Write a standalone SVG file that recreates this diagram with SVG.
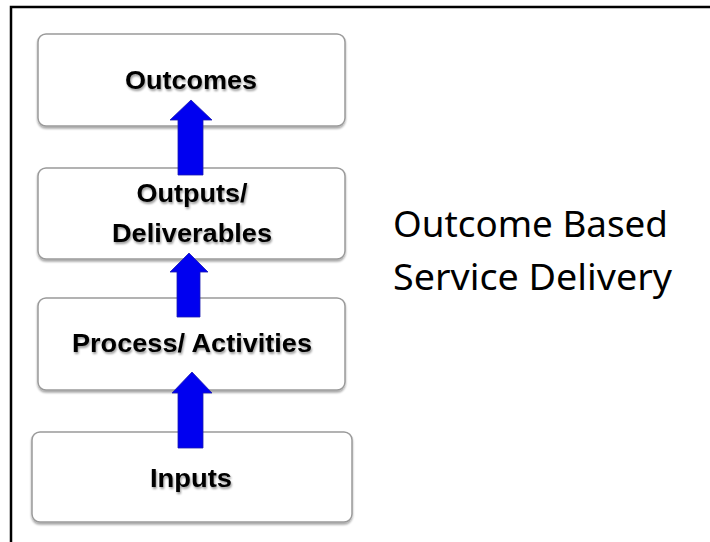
<svg xmlns="http://www.w3.org/2000/svg" width="710" height="542" viewBox="0 0 710 542">
  <defs>
    <filter id="boxShadow" x="-5%" y="-10%" width="110%" height="130%">
      <feGaussianBlur in="SourceAlpha" stdDeviation="1.2"/>
      <feOffset dx="0" dy="1.5" result="b"/>
      <feComponentTransfer><feFuncA type="linear" slope="0.35"/></feComponentTransfer>
      <feMerge><feMergeNode/><feMergeNode in="SourceGraphic"/></feMerge>
    </filter>
    <filter id="textShadow" x="-5%" y="-20%" width="110%" height="150%">
      <feGaussianBlur in="SourceAlpha" stdDeviation="1"/>
      <feOffset dx="1" dy="1.5" result="b"/>
      <feComponentTransfer><feFuncA type="linear" slope="0.4"/></feComponentTransfer>
      <feMerge><feMergeNode/><feMergeNode in="SourceGraphic"/></feMerge>
    </filter>
  </defs>
  <style>
    .frame { fill: none; stroke: #000; stroke-width: 2.5; }
    .box { fill: #fff; stroke: #9a9a9a; stroke-width: 1.5; filter: url(#boxShadow); }
    .lbl { font-family: "Liberation Sans", Arial, sans-serif; font-weight: bold; font-size: 25.5px; fill: #000; text-anchor: middle; filter: url(#textShadow); }
    .title { font-family: "Noto Sans", "Open Sans", sans-serif; font-size: 36px; fill: #000; }
    .arrow { fill: #0000f0; stroke: #1a1ab0; stroke-width: 0.8; }
  </style>

  <rect width="710" height="542" fill="#fff"/>
  <!-- page frame: top and left edges -->
  <path class="frame" d="M11,542 V7 H710"/>

  <g id="node-outcomes">
    <rect class="box" x="38" y="34" width="307" height="92" rx="8"/>
    <text class="lbl" x="191" y="89" textLength="132" lengthAdjust="spacingAndGlyphs">Outcomes</text>
  </g>

  <g id="node-outputs">
    <rect class="box" x="38" y="168" width="307" height="91" rx="8"/>
    <text class="lbl" x="192" y="202" textLength="111" lengthAdjust="spacingAndGlyphs">Outputs/</text>
    <text class="lbl" x="192" y="242" textLength="160" lengthAdjust="spacingAndGlyphs">Deliverables</text>
  </g>

  <g id="node-process">
    <rect class="box" x="38" y="298" width="307" height="92" rx="8"/>
    <text class="lbl" x="192" y="352" textLength="240" lengthAdjust="spacingAndGlyphs">Process/ Activities</text>
  </g>

  <g id="node-inputs">
    <rect class="box" x="32" y="432" width="320" height="90" rx="8"/>
    <text class="lbl" x="191" y="487" textLength="82" lengthAdjust="spacingAndGlyphs">Inputs</text>
  </g>

  <g id="connectors">
    <!-- outputs -> outcomes -->
    <path class="arrow" d="M178,175 V120 H170 L191,100 L212,120 H203 V175 Z"/>
    <!-- process -> outputs -->
    <path class="arrow" d="M177,317 V272 H170 L189,253 L208,272 H200 V317 Z"/>
    <!-- inputs -> process -->
    <path class="arrow" d="M178,448 V393 H172 L192,372 L212,393 H203 V448 Z"/>
  </g>

  <g id="caption">
    <text class="title" x="393" y="237" textLength="275" lengthAdjust="spacingAndGlyphs">Outcome Based</text>
    <text class="title" x="393" y="290" textLength="279" lengthAdjust="spacingAndGlyphs">Service Delivery</text>
  </g>
</svg>
